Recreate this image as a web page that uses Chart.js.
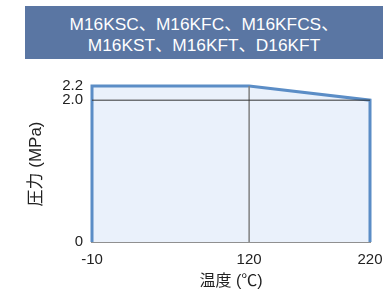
<!DOCTYPE html>
<html><head><meta charset="utf-8">
<script src="https://cdn.jsdelivr.net/npm/chart.js@4"></script>
<style>
body{margin:0;background:#fff;font-family:"Liberation Sans",Arial,"Noto Sans CJK JP",sans-serif;}
#wrap{position:relative;width:392px;height:291px;}
#box{position:absolute;left:25px;top:6px;width:358px;height:53px;background:#5a76a3;}
.t{position:absolute;left:0;width:358px;text-align:center;color:#fff;font-size:17.3px;white-space:nowrap;line-height:20px;}
canvas{position:absolute;left:0;top:0;}
</style></head><body>
<div id="wrap">
<canvas id="c" width="392" height="291"></canvas>
<div id="box"><div class="t" id="l1" style="top:8px"></div><div class="t" id="l2" style="top:28.5px"></div></div>
</div>
<script>
const titleLines = ["M16KSC、M16KFC、M16KFCS、", "M16KST、M16KFT、D16KFT"];
const tempPoints = [-10, -10, 120, 220, 220];
const pressurePoints = [0, 2.2, 2.2, 2.0, 0];
const xTicks = [-10, 120, 220];
const yTicks = [0, 2.0, 2.2];
const refTemp = 120;
const refPressure = 2.0;
const xTitle = "温度 (℃)";
const yTitle = "圧力 (MPa)";

document.getElementById('l1').textContent = titleLines[0];
document.getElementById('l2').textContent = titleLines[1];

const zip = (xs, ys) => xs.map((x, i) => ({x, y: ys[i]}));

new Chart(document.getElementById('c'), {
  type: 'scatter',
  data: {
    datasets: [
      {data: [{x: xTicks[0], y: refPressure}, {x: xTicks[2], y: refPressure}], showLine: true, borderColor: '#333', borderWidth: 1, pointRadius: 0, fill: false, order: 1},
      {data: [{x: refTemp, y: 0}, {x: refTemp, y: yTicks[2]}], showLine: true, borderColor: '#808080', borderWidth: 1.5, pointRadius: 0, fill: false, order: 1},
      {data: zip(tempPoints, pressurePoints), showLine: true, borderColor: '#5b8dc6', borderWidth: 3, backgroundColor: '#eaf1fb', fill: 'origin', pointRadius: 0, tension: 0, clip: false, order: 2}
    ]
  },
  options: {
    animation: false, responsive: false, events: [],
    layout: {padding: {left: 0, top: 86, right: 22, bottom: 0}},
    plugins: {legend: {display: false}, tooltip: {enabled: false}},
    scales: {
      x: {
        type: 'linear', min: xTicks[0], max: xTicks[2],
        afterBuildTicks: s => { s.ticks = xTicks.map(v => ({value: v})); },
        afterFit: s => { s.height = 49; },
        grid: {display: false, drawTicks: false},
        border: {display: true, color: '#222', width: 1.5},
        ticks: {padding: 9, color: '#222', font: {size: 15, family: '"Liberation Sans", Arial'}, maxRotation: 0, autoSkip: false, callback: v => String(v)},
        title: {display: true, text: xTitle, color: '#222', font: {size: 16, family: '"Liberation Sans","Noto Sans CJK JP"'}, padding: {top: 0, bottom: 0}}
      },
      y: {
        type: 'linear', min: 0, max: yTicks[2],
        afterBuildTicks: s => { s.ticks = yTicks.map(v => ({value: v})); },
        afterFit: s => { s.width = 92; },
        grid: {display: false, drawTicks: false},
        border: {display: false},
        ticks: {padding: 9, color: '#222', font: {size: 15, family: '"Liberation Sans", Arial'}, autoSkip: false, callback: v => v === 0 ? '0' : v.toFixed(1)},
        title: {display: true, text: yTitle, color: '#222', font: {size: 17, family: '"Liberation Sans","Noto Sans CJK JP"'}, padding: {top: 26, bottom: 0}}
      }
    }
  }
});
</script>
</body></html>
